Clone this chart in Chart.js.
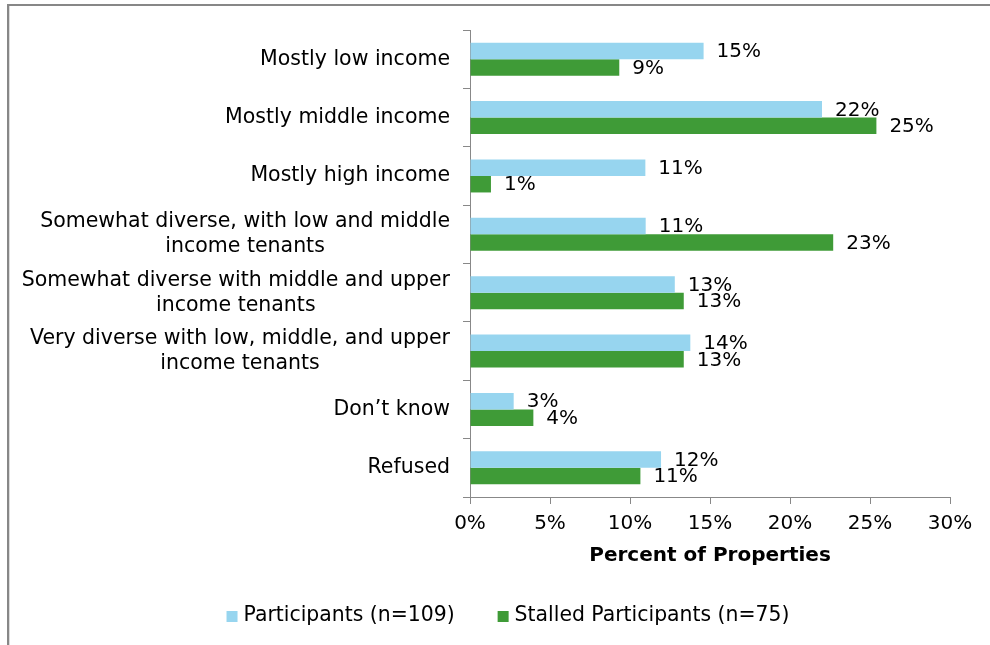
<!DOCTYPE html>
<html>
<head>
<meta charset="utf-8">
<script src="https://cdn.jsdelivr.net/npm/chart.js@4.4.0/dist/chart.umd.min.js"></script>
<style>
  html, body { margin: 0; padding: 0; background: #fff; }
  #wrap { width: 990px; height: 645px; position: relative; }
</style>
</head>
<body>
<div id="wrap"><canvas id="c" width="990" height="645"></canvas></div>
<script>
// Tenant income mix of properties, by group (percent of properties)
const categories = [
  ['Mostly low income'],
  ['Mostly middle income'],
  ['Mostly high income'],
  ['Somewhat diverse, with low and middle', 'income tenants'],
  ['Somewhat diverse with middle and upper', 'income tenants'],
  ['Very diverse with low, middle, and upper', 'income tenants'],
  ['Don’t know'],
  ['Refused']
];
const seriesNames = ['Participants (n=109)', 'Stalled Participants (n=75)'];
const participants = [14.6, 22.0, 10.96, 10.98, 12.8, 13.77, 2.73, 11.94];
const stalled = [9.33, 25.4, 1.31, 22.7, 13.36, 13.36, 3.96, 10.65];
const xMin = 0;
const xMax = 30;
const xStep = 5;
const xTitle = 'Percent of Properties';

const FONT = '"DejaVu Sans", Verdana, sans-serif';
const BLUE = '#97d5ef';
const GREEN = '#3f9b37';
const AXIS = '#888888';

// Outer frame (top and left edges) and white background
const framePlugin = {
  id: 'frame',
  beforeDraw(chart) {
    const ctx = chart.ctx;
    ctx.save();
    ctx.fillStyle = '#ffffff';
    ctx.fillRect(0, 0, chart.width, chart.height);
    ctx.fillStyle = '#878787';
    ctx.fillRect(7, 4, chart.width - 7, 2);
    ctx.fillRect(7, 4, 2, chart.height - 4);
    ctx.fillStyle = '#dcdcdc';
    ctx.fillRect(9, 6, 1, chart.height - 6);
    ctx.restore();
  }
};

// Category names: right-aligned blocks, lines centred within each block
const categoryLabelPlugin = {
  id: 'categoryLabels',
  afterDraw(chart) {
    const ctx = chart.ctx;
    const y = chart.scales.y;
    const rightEdge = y.right - 20;
    const lineH = 25;
    ctx.save();
    ctx.font = '20.5px ' + FONT;
    ctx.fillStyle = '#000';
    ctx.textAlign = 'center';
    ctx.textBaseline = 'middle';
    categories.forEach((lines, i) => {
      const yc = y.getPixelForValue(i);
      const w = Math.max(...lines.map(l => ctx.measureText(l).width));
      const cx = rightEdge - w / 2;
      lines.forEach((line, j) => {
        ctx.fillText(line, cx, yc + (j - (lines.length - 1) / 2) * lineH);
      });
    });
    ctx.restore();
  }
};

// Value labels just past the end of each bar
const valueLabelPlugin = {
  id: 'valueLabels',
  afterDatasetsDraw(chart) {
    const ctx = chart.ctx;
    ctx.save();
    ctx.font = '20px ' + FONT;
    ctx.fillStyle = '#000';
    ctx.textAlign = 'left';
    ctx.textBaseline = 'middle';
    chart.data.datasets.forEach((ds, di) => {
      const meta = chart.getDatasetMeta(di);
      meta.data.forEach((el, i) => {
        ctx.fillText(Math.round(ds.data[i]) + '%', el.x + 13, el.y + 1);
      });
    });
    ctx.restore();
  }
};

// Legend row under the axis title
const legendPlugin = {
  id: 'bottomLegend',
  afterDraw(chart) {
    const ctx = chart.ctx;
    const box = 11, gapText = 6, gapItem = 43;
    const centerX = 508, textY = 616;
    ctx.save();
    ctx.font = '20.4px ' + FONT;
    ctx.textAlign = 'left';
    ctx.textBaseline = 'middle';
    const items = chart.data.datasets.map(ds => ({
      text: ds.label, color: ds.backgroundColor, w: ctx.measureText(ds.label).width
    }));
    const total = items.reduce((s, it) => s + box + gapText + it.w, 0) + gapItem * (items.length - 1);
    let x = centerX - total / 2;
    items.forEach(it => {
      ctx.fillStyle = it.color;
      ctx.fillRect(x, textY - 5, box, box);
      ctx.fillStyle = '#000';
      ctx.fillText(it.text, x + box + gapText, textY);
      x += box + gapText + it.w + gapItem;
    });
    ctx.restore();
  }
};

new Chart(document.getElementById('c'), {
  type: 'bar',
  data: {
    labels: categories.map(l => l.join(' ')),
    datasets: [
      { label: seriesNames[0], data: participants, backgroundColor: BLUE, borderWidth: 0 },
      { label: seriesNames[1], data: stalled, backgroundColor: GREEN, borderWidth: 0 }
    ]
  },
  options: {
    indexAxis: 'y',
    responsive: false,
    animation: false,
    devicePixelRatio: 1,
    categoryPercentage: 0.566,
    barPercentage: 1,
    layout: { padding: { top: 30, right: 40, bottom: 68, left: 0 } },
    plugins: {
      legend: { display: false },
      tooltip: { enabled: false }
    },
    scales: {
      y: {
        type: 'category',
        grid: { offset: true, drawOnChartArea: false, tickLength: 7, color: AXIS, lineWidth: 1 },
        border: { color: AXIS, width: 1 },
        ticks: { display: false },
        afterFit(s) { s.width = 470; }
      },
      x: {
        min: xMin,
        max: xMax,
        grid: { drawOnChartArea: false, tickLength: 7, color: AXIS, lineWidth: 1 },
        border: { color: AXIS, width: 1 },
        ticks: {
          stepSize: xStep,
          padding: 8,
          color: '#000',
          font: { family: FONT, size: 20 },
          callback: v => v + '%'
        },
        title: {
          display: true,
          text: xTitle,
          color: '#000',
          font: { family: FONT, size: 20, weight: 'bold' },
          padding: { top: 0, bottom: 9 }
        },
        afterFit(s) { s.height = 80; }
      }
    }
  },
  plugins: [framePlugin, categoryLabelPlugin, valueLabelPlugin, legendPlugin]
});
</script>
</body>
</html>
